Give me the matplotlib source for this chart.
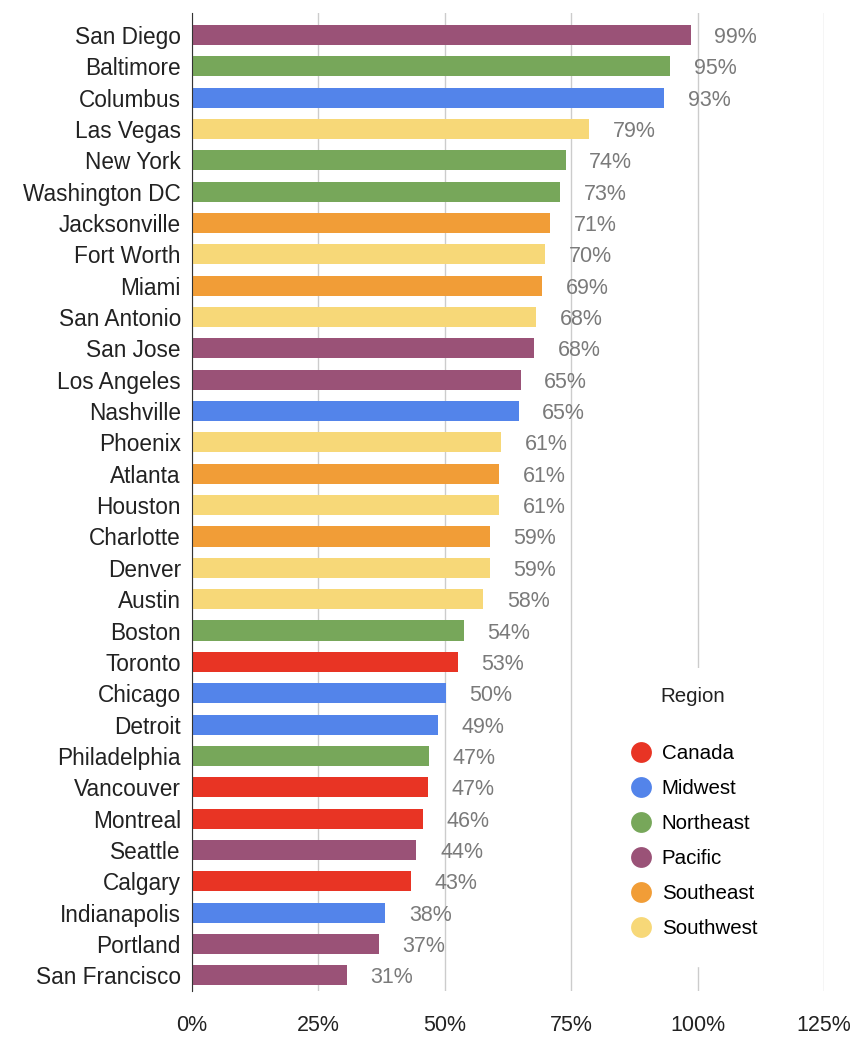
import matplotlib
matplotlib.use("Agg")
import matplotlib.pyplot as plt
from matplotlib.lines import Line2D

plt.rcParams['font.family'] = ['Liberation Sans', 'DejaVu Sans']

# data (share, %)
cities = ["San Diego", "Baltimore", "Columbus", "Las Vegas", "New York", "Washington DC",
          "Jacksonville", "Fort Worth", "Miami", "San Antonio", "San Jose", "Los Angeles",
          "Nashville", "Phoenix", "Atlanta", "Houston", "Charlotte", "Denver", "Austin",
          "Boston", "Toronto", "Chicago", "Detroit", "Philadelphia", "Vancouver",
          "Montreal", "Seattle", "Calgary", "Indianapolis", "Portland", "San Francisco"]
values = [98.6, 94.6, 93.4, 78.6, 73.9, 72.8, 70.9, 69.8, 69.2, 68.0, 67.6, 65.0,
          64.6, 61.1, 60.7, 60.7, 58.9, 58.9, 57.6, 53.8, 52.6, 50.2, 48.6, 46.8,
          46.6, 45.6, 44.4, 43.3, 38.2, 37.0, 30.6]
regions = ["Pacific", "Northeast", "Midwest", "Southwest", "Northeast", "Northeast",
           "Southeast", "Southwest", "Southeast", "Southwest", "Pacific", "Pacific",
           "Midwest", "Southwest", "Southeast", "Southwest", "Southeast", "Southwest",
           "Southwest", "Northeast", "Canada", "Midwest", "Midwest", "Northeast",
           "Canada", "Canada", "Pacific", "Canada", "Midwest", "Pacific", "Pacific"]
region_names = ["Canada", "Midwest", "Northeast", "Pacific", "Southeast", "Southwest"]
region_colors = ["#E83424", "#5384EA", "#77A75A", "#9A5277", "#F19D37", "#F7D878"]
xticks = [0, 25, 50, 75, 100, 125]

cmap = dict(zip(region_names, region_colors))

fig = plt.figure(figsize=(8.66, 10.46), dpi=100)
ax = fig.add_axes([192/866, 1 - 991/1046, (824-192)/866, (991-13)/1046])

ypos = list(range(len(cities)))
ax.barh(ypos, values, height=0.64, color=[cmap[r] for r in regions], zorder=3)

# value labels to the right of each bar
for y, v in zip(ypos, values):
    ax.annotate(f"{round(v)}%", (v, y), xytext=(17, 0), textcoords="offset points",
                ha="left", va="center_baseline", fontsize=15.5, color="#7a7a7a", zorder=4)

ax.set_xlim(0, 125)
ax.set_ylim(30.5, -0.7)
ax.set_yticks(ypos)
ax.set_yticklabels(cities, fontsize=16.3, color="#222222")
ax.set_xticks(xticks)
ax.set_xticklabels([f"{t}%" for t in xticks], fontsize=15.5, color="#222222")
ax.tick_params(axis="y", length=0, pad=8)
ax.tick_params(axis="x", length=0, pad=17)
ax.xaxis.grid(True, color="#cccccc", lw=1, zorder=0)
for s in ["top", "right", "bottom"]:
    ax.spines[s].set_visible(False)
ax.spines["left"].set_color("#333333")
ax.spines["left"].set_zorder(5)

handles = [Line2D([], [], marker="o", ls="", markersize=15, color=c,
                  markeredgewidth=0) for c in region_colors]
leg = ax.legend(handles, region_names, loc="upper left",
                bbox_to_anchor=(593/866, 1 - 706/1046), bbox_transform=fig.transFigure,
                fontsize=14.8, handlelength=1.0, handletextpad=0.5, labelspacing=0.78,
                borderpad=1.35, frameon=True, facecolor="white", edgecolor="white",
                framealpha=1.0, fancybox=False)
leg.set_zorder(6)
fig.text(660/866, 1 - 697/1046, "Region", fontsize=14.8, color="#222222",
         ha="left", va="center", zorder=7,
         bbox=dict(facecolor="white", edgecolor="none", pad=14))

fig.savefig("out.png", dpi=100, facecolor="white")
